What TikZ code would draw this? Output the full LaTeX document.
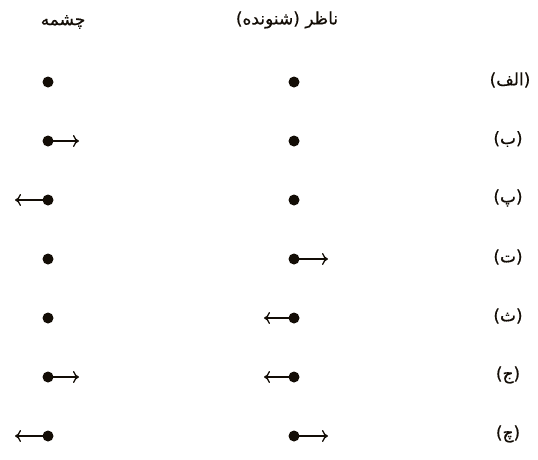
\documentclass[tikz,border=0pt]{standalone}
\usepackage{fontspec}
\usetikzlibrary{arrows.meta}
\newfontfamily\arabicfont[Script=Arabic,FakeBold=0.6]{DejaVu Sans}
\TeXXeTstate=1
\tikzset{
  dotnode/.style={circle,fill=black!90!brown,inner sep=0pt,minimum size=11pt},
  arr/.style={line width=1.3pt,draw=black!90!brown,-{To[length=6pt,width=12pt,line width=1.3pt]}},
  lbl/.style={font=\arabicfont\fontsize{17}{20}\selectfont,inner sep=0pt,text=black!90!brown},
  hdr/.style={font=\arabicfont\fontsize{17}{20}\selectfont,inner sep=0pt,text=black!90!brown}
}
\begin{document}
\begin{tikzpicture}[x=1pt,y=1pt]
\useasboundingbox (0,0) rectangle (538,-459);
% headers
\node[hdr] (hs) at (63,-22) {\beginR چشمه\endR};
\node[hdr] (ho) at (287,-20) {\beginR ناظر (شنونده)\endR};
% row labels
\node[lbl] (l1) at (510,-80) {\beginR (الف)\endR};
\node[lbl] (l2) at (508,-139) {\beginR (ب)\endR};
\node[lbl] (l3) at (508,-198) {\beginR (پ)\endR};
\node[lbl] (l4) at (508,-257) {\beginR (ت)\endR};
\node[lbl] (l5) at (508,-316) {\beginR (ث)\endR};
\node[lbl] (l6) at (508,-375) {\beginR (ج)\endR};
\node[lbl] (l7) at (508,-434) {\beginR (چ)\endR};
% dots
\foreach \i/\y in {1/82,2/141,3/200,4/259,5/318,6/377,7/436}{
  \node[dotnode] (s\i) at (48,-\y) {};
  \node[dotnode] (o\i) at (294,-\y) {};
}
% arrow ends
\coordinate (s2e) at (79,-141);
\coordinate (s3e) at (15,-200);
\coordinate (o4e) at (328,-259);
\coordinate (o5e) at (264,-318);
\coordinate (s6e) at (79,-377);
\coordinate (o6e) at (264,-377);
\coordinate (s7e) at (15,-436);
\coordinate (o7e) at (328,-436);
\draw[arr] (s2.center) -- (s2e);
\draw[arr] (s3.center) -- (s3e);
\draw[arr] (o4.center) -- (o4e);
\draw[arr] (o5.center) -- (o5e);
\draw[arr] (s6.center) -- (s6e);
\draw[arr] (o6.center) -- (o6e);
\draw[arr] (s7.center) -- (s7e);
\draw[arr] (o7.center) -- (o7e);
\end{tikzpicture}
\end{document}
